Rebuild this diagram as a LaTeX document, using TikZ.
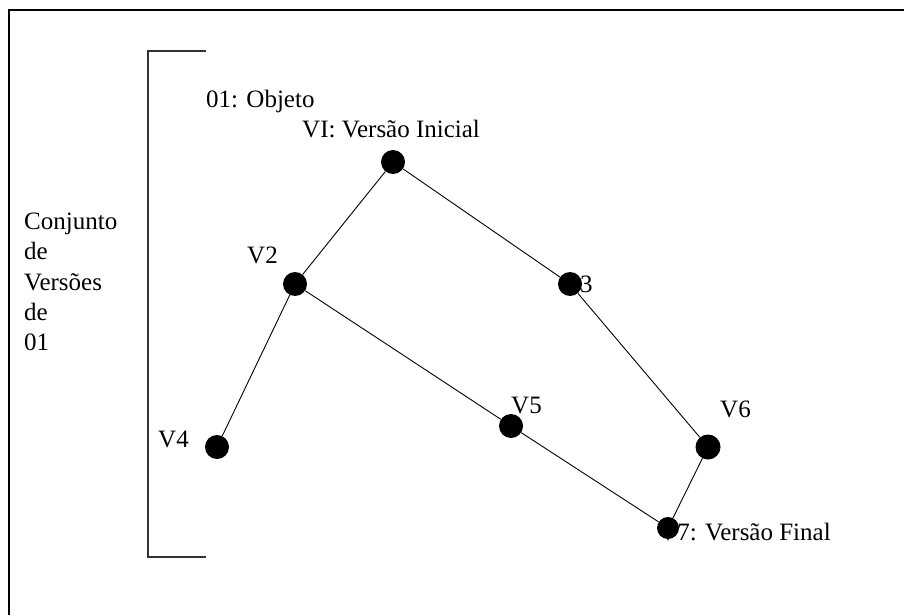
\documentclass[tikz,border=0pt]{standalone}
\usepackage{fontspec}
\setmainfont{Liberation Serif}
\begin{document}
\begin{tikzpicture}[x=1pt,y=-1pt,
  vtx/.style={circle,fill=black,draw=none,inner sep=0pt,minimum width=23pt,minimum height=24pt},
  lbl/.style={anchor=base west,inner sep=0pt,font=\fontsize{25}{30}\selectfont},
  edge/.style={draw=black,line width=0.9pt},
  brk/.style={draw=black!80,line width=1.6pt}]
\useasboundingbox (0,0) rectangle (904,615);
% outer frame (only top and left edges visible)
\draw[line width=2pt] (9,620) -- (9,10) -- (910,10);
% bracket
\coordinate (bt) at (206,51);
\coordinate (bb) at (206,557);
\draw[brk] (bt) -- (148,51) -- (148,557) -- (bb);
% side labels
\node[lbl] (c1) at (24,229) {Conjunto};
\node[lbl] (c2) at (24,259) {de};
\node[lbl] (c3) at (24,290) {Versões};
\node[lbl] (c4) at (24,320) {de};
\node[lbl] (c5) at (24,350) {01};
% labels
\node[lbl] (lobj) at (206,108) {01: Objeto};
\node[lbl] (l1) at (302,137) {VI: Versão Inicial};
\node[lbl] (l2) at (247,263) {V2};
\node[lbl] (l3) at (580,292) {3};
\node[lbl] (l4) at (158,447) {V4};
\node[lbl] (l5) at (511,413) {V5};
\node[lbl] (l6) at (720,417) {V6};
\node[lbl] (l7) at (659,540) {V7: Versão Final};
% vertices
\node[vtx] (v1) at (393,162) {};
\node[vtx] (v2) at (295,284) {};
\node[vtx] (v3) at (570,284) {};
\node[vtx] (v4) at (217,447) {};
\node[vtx] (v5) at (511,426) {};
\node[vtx,minimum width=21pt,minimum height=25pt] (v6) at (708,447) {};
\node[vtx,minimum width=21pt,minimum height=22pt] (v7) at (668,528) {};
% edges
\draw[edge] (v1) -- (v2);
\draw[edge] (v1) -- (v3);
\draw[edge] (v2) -- (v4);
\draw[edge] (v2) -- (v5);
\draw[edge] (v3) -- (v6);
\draw[edge] (v5) -- (v7);
\draw[edge] (v6) -- (v7);
\end{tikzpicture}
\end{document}
